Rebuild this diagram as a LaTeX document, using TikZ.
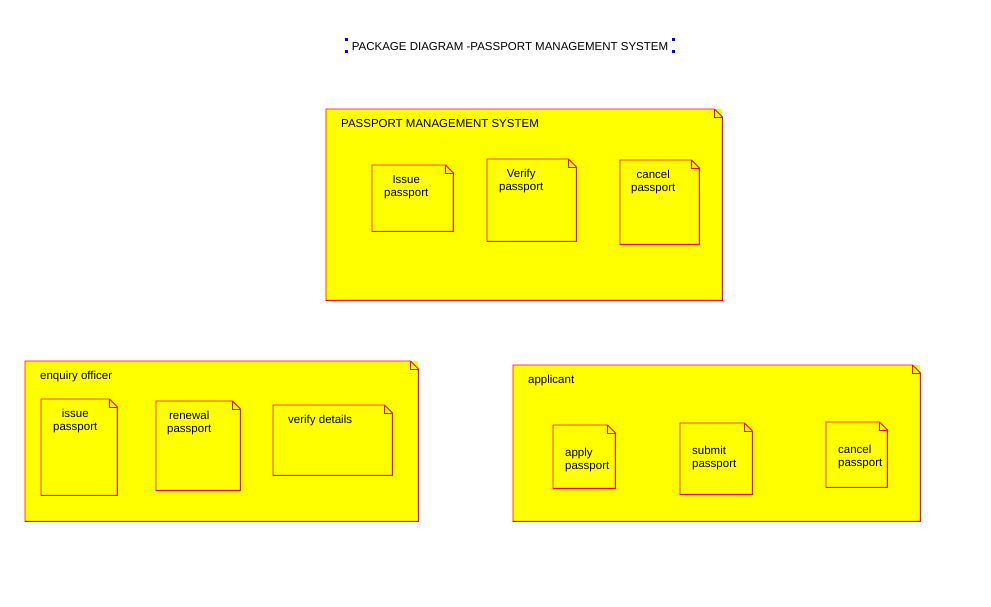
\documentclass[tikz,border=0pt]{standalone}
\usepackage{fontspec}
\setmainfont{Liberation Sans}
\usetikzlibrary{positioning}

\definecolor{pkgyellow}{RGB}{255,255,0}
\definecolor{pkgred}{RGB}{255,0,0}
\tikzset{
  pkgbox/.style={fill=pkgyellow, draw=none, inner sep=0pt, anchor=north west},
  pkgline/.style={draw=pkgred, line width=0.9pt, line join=miter},
  pkgtext/.style={font=\fontsize{11.5}{13}\selectfont, inner sep=0pt, anchor=north west, align=center},
  handle/.style={fill=blue, draw=none},
}
% dog-eared outline round a named box
\newcommand{\dogear}[1]{%
  \draw[pkgline] (#1.south west) -- (#1.north west) -- ([xshift=-8]#1.north east)
    -- ([yshift=-8]#1.north east) -- (#1.south east) -- cycle;
  \draw[pkgline] ([xshift=-8]#1.north east) |- ([yshift=-8]#1.north east);}

\begin{document}
\begin{tikzpicture}[x=1pt,y=-1pt]
\useasboundingbox[fill=white] (0,0) rectangle (991,606);

% ===================== title =====================
\node[pkgtext, anchor=north] (title) at (510,42) {PACKAGE DIAGRAM -PASSPORT MANAGEMENT SYSTEM};
\foreach \hx in {345,672}{
  \foreach \hy in {38,50}{
    \fill[handle] (\hx,\hy) rectangle ++(3,3);
  }
}

% ===================== passport management system =====================
\node[pkgbox, minimum width=396, minimum height=191] (sys) at (326,109) {};
\node[pkgbox, minimum width=81, minimum height=66] (iss) at (372,165) {};
\node[pkgbox, minimum width=89, minimum height=82] (ver) at (487,159) {};
\node[pkgbox, minimum width=79, minimum height=84] (can) at (620,160) {};

% ===================== enquiry officer =====================
\node[pkgbox, minimum width=393, minimum height=160] (enq) at (25,361) {};
\node[pkgbox, minimum width=76, minimum height=96] (eis) at (41,399) {};
\node[pkgbox, minimum width=84, minimum height=89] (ren) at (156,401) {};
\node[pkgbox, minimum width=119, minimum height=70] (vdt) at (273,405) {};

% ===================== applicant =====================
\node[pkgbox, minimum width=407, minimum height=156] (app) at (513,365) {};
\node[pkgbox, minimum width=62, minimum height=63] (apl) at (553,425) {};
\node[pkgbox, minimum width=72, minimum height=71] (sub) at (680,423) {};
\node[pkgbox, minimum width=61, minimum height=65] (cap) at (826,422) {};

\foreach \n in {sys,iss,ver,can,enq,eis,ren,vdt,app,apl,sub,cap}{
  \dogear{\n}
}

% ---- labels ----
\node[pkgtext] (sysname) at ([shift={(15,10)}]sys.north west) {PASSPORT MANAGEMENT SYSTEM};
\node[pkgtext] (isstext) at ([shift={(12,10)}]iss.north west) {Issue\\passport};
\node[pkgtext] (vertext) at ([shift={(12,10)}]ver.north west) {Verify\\passport};
\node[pkgtext] (cantext) at ([shift={(11,10)}]can.north west) {cancel\\passport};

\node[pkgtext] (enqname) at ([shift={(15,10)}]enq.north west) {enquiry officer};
\node[pkgtext] (eistext) at ([shift={(12,10)}]eis.north west) {issue\\passport};
\node[pkgtext] (rentext) at ([shift={(11,10)}]ren.north west) {renewal\\passport};
\node[pkgtext] (vdttext) at ([shift={(15,10)}]vdt.north west) {verify details};

\node[pkgtext] (appname) at ([shift={(15,10)}]app.north west) {applicant};
\node[pkgtext, align=left] (apltext) at ([shift={(12,23)}]apl.north west) {apply\\passport};
\node[pkgtext, align=left] (subtext) at ([shift={(12,23)}]sub.north west) {submit\\passport};
\node[pkgtext, align=left] (captext) at ([shift={(12,23)}]cap.north west) {cancel\\passport};

\end{tikzpicture}
\end{document}
